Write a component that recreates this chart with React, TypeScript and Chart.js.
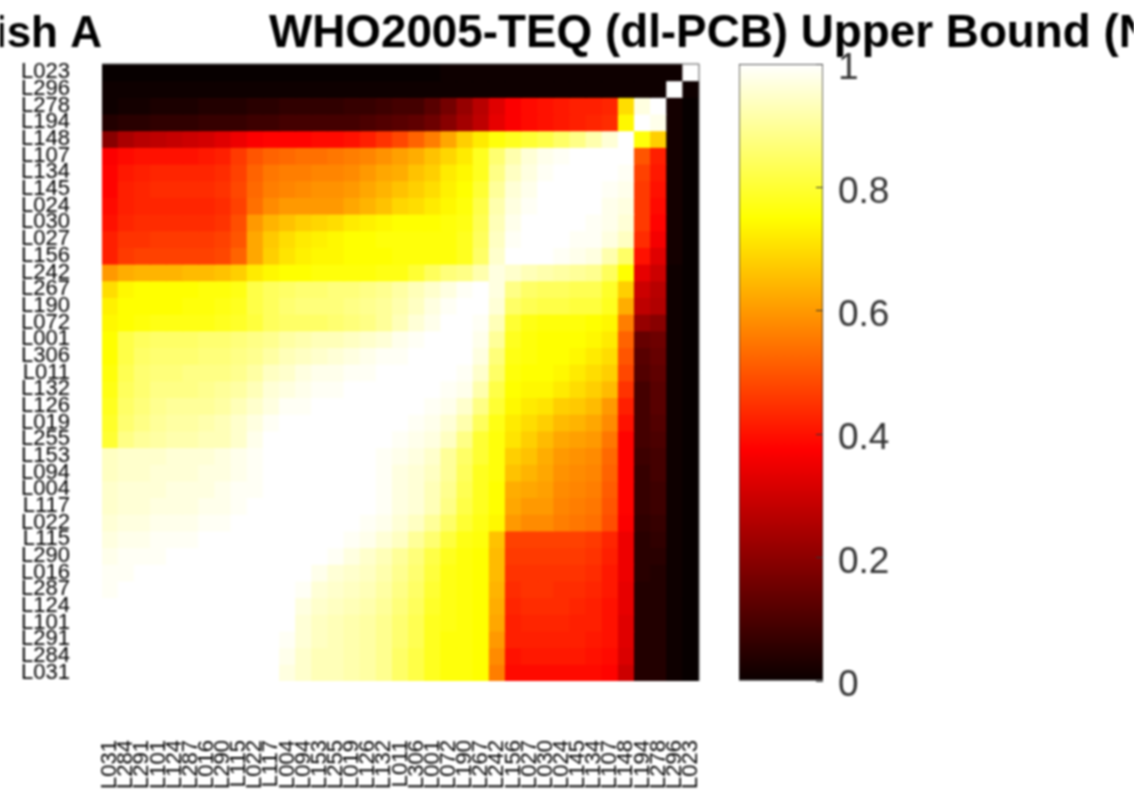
import React, { useEffect, useRef } from "react";
import { Chart, registerables } from "chart.js";

Chart.register(...registerables);

const yLabels = ["L023","L296","L278","L194","L148","L107","L134","L145","L024","L030","L027","L156","L242","L267","L190","L072","L001","L306","L011","L132","L126","L019","L255","L153","L094","L004","L117","L022","L115","L290","L016","L287","L124","L101","L291","L284","L031"];
const xLabels = [...yLabels].reverse();
const colorbarTicks = [0, 0.2, 0.4, 0.6, 0.8, 1];
const titleLeft = "Fish A";
const titleRight = "WHO2005-TEQ (dl-PCB) Upper Bound (ND=LOD)";
const hotStops: [number, string][] = [[0, "#0a0000"], [0.375, "#ff0000"], [0.75, "#ffff00"], [1, "#ffffff"]];

// Rows, top to bottom; each row left to right up to the white diagonal.
const upperRows: number[][] = [
[.01,.01,.01,.01,.01,.01,.01,.01,.01,.01,.01,.01,.01,.01,.01,.01,.01,.01,.01,.01,.01,.02,.02,.02,.02,.02,.02,.02,.02,.02,.02,.02,.02,.02,.02,.02,1],
[.02,.02,.02,.02,.02,.02,.02,.02,.02,.02,.02,.02,.02,.02,.02,.02,.02,.02,.02,.02,.02,.02,.02,.02,.02,.02,.02,.02,.02,.02,.02,.02,.02,.02,.02,1],
[.02,.03,.03,.04,.04,.04,.05,.05,.05,.06,.06,.07,.07,.07,.07,.08,.08,.09,.1,.1,.13,.17,.22,.27,.33,.37,.39,.4,.41,.42,.42,.43,.7,.97,1],
[.05,.06,.06,.07,.07,.07,.08,.08,.08,.09,.09,.1,.1,.1,.1,.1,.11,.12,.13,.14,.16,.2,.24,.28,.34,.37,.39,.4,.41,.42,.43,.44,.74,1],
[.2,.25,.27,.28,.29,.3,.31,.33,.35,.37,.38,.38,.38,.39,.39,.4,.42,.45,.48,.52,.56,.62,.68,.72,.76,.78,.8,.82,.85,.88,.92,.96,1],
[.37,.39,.4,.4,.4,.4,.41,.42,.46,.5,.52,.53,.54,.54,.55,.56,.57,.59,.61,.63,.66,.69,.72,.78,.86,.92,.96,.98,.99,1,1,1],
[.38,.41,.42,.43,.43,.43,.43,.44,.47,.52,.55,.56,.56,.57,.57,.58,.6,.62,.63,.66,.68,.72,.74,.78,.88,.94,.97,.99,1,1,1],
[.38,.42,.43,.44,.44,.44,.44,.45,.48,.53,.56,.57,.58,.59,.59,.6,.62,.64,.66,.68,.7,.73,.75,.8,.9,.96,.98,1,1,1],
[.39,.42,.43,.43,.43,.43,.43,.44,.47,.54,.58,.6,.6,.6,.6,.62,.64,.66,.69,.7,.72,.74,.76,.82,.92,.97,.99,1,1],
[.4,.43,.44,.44,.44,.44,.44,.45,.49,.6,.64,.66,.68,.69,.7,.72,.73,.74,.75,.75,.75,.76,.77,.83,.93,.98,1,1],
[.42,.45,.45,.46,.46,.46,.46,.47,.5,.62,.67,.7,.72,.73,.74,.75,.75,.76,.76,.76,.76,.76,.78,.84,.94,.99,1],
[.42,.46,.47,.47,.47,.47,.47,.48,.52,.62,.68,.71,.73,.74,.74,.75,.75,.75,.76,.76,.76,.76,.78,.85,.95,1],
[.6,.63,.64,.64,.64,.65,.65,.66,.68,.72,.74,.75,.75,.76,.76,.76,.76,.77,.77,.8,.84,.87,.88,.92,.97],
[.7,.74,.75,.75,.75,.75,.76,.76,.77,.82,.84,.85,.86,.86,.87,.87,.88,.89,.91,.93,.95,.97,.99,1],
[.73,.75,.75,.75,.75,.76,.76,.77,.78,.82,.84,.86,.87,.87,.87,.88,.89,.9,.92,.94,.97,.99,1],
[.74,.75,.76,.77,.77,.77,.77,.78,.79,.81,.84,.85,.85,.85,.86,.87,.88,.9,.93,.96,.98,1],
[.75,.82,.84,.85,.85,.85,.86,.86,.87,.88,.89,.91,.92,.93,.93,.94,.95,.96,.98,.99,1],
[.75,.82,.85,.86,.86,.86,.87,.87,.88,.89,.91,.93,.94,.95,.96,.97,.98,.99,.99,1],
[.76,.83,.86,.87,.87,.88,.88,.88,.89,.91,.94,.95,.97,.98,.98,.99,.99,1,1],
[.77,.84,.86,.88,.88,.88,.89,.9,.91,.93,.96,.97,.98,.99,.99,1,1,1],
[.78,.85,.87,.89,.9,.9,.9,.91,.93,.95,.97,.99,.99,1,1,1,1],
[.79,.86,.88,.9,.91,.91,.92,.93,.95,.97,.99,1,1,1,1,1],
[.8,.88,.9,.91,.92,.92,.93,.93,.95,.98,1,1,1,1,1],
[.94,.95,.95,.95,.96,.96,.96,.97,.98,.99,1,1,1,1],
[.94,.95,.95,.96,.96,.96,.97,.97,.98,.99,1,1,1],
[.95,.96,.96,.96,.97,.97,.97,.98,.99,.99,1,1],
[.95,.96,.96,.97,.97,.97,.98,.98,.99,1,1],
[.96,.97,.97,.98,.98,.98,.99,.99,1,1],
[.97,.98,.98,.99,.99,.99,1,1,1],
[.98,.99,.99,.99,1,1,1,1],
[.99,.99,1,1,1,1,1],
[.99,1,1,1,1,1],
[1,1,1,1,1],
[1,1,1,1],
[1,1,1],
[1,1],
[1],
];

// The remainder of each row, right of the white diagonal.
const lowerRows: number[][] = [
[],
[.02],
[.03,.01],
[.98,.03,.01],
[.76,.68,.03,.01],
[1,.5,.42,.03,.01],
[1,.99,.47,.41,.03,.01],
[1,.99,.98,.46,.4,.03,.01],
[1,1,.98,.97,.46,.39,.03,.01],
[1,1,.99,.98,.96,.46,.38,.03,.01],
[1,1,.99,.99,.97,.94,.44,.36,.03,.01],
[1,1,.99,.98,.97,.92,.85,.4,.33,.03,.01],
[.95,.93,.92,.91,.9,.89,.84,.75,.34,.3,.02,.01],
[.97,.88,.85,.84,.84,.83,.83,.79,.68,.3,.27,.02,.01],
[1,.96,.85,.83,.82,.82,.81,.81,.78,.63,.28,.26,.02,.01],
[1,.99,.93,.8,.77,.76,.76,.76,.75,.74,.56,.22,.2,.02,.01],
[1,1,.98,.9,.78,.76,.75,.75,.75,.74,.72,.52,.15,.16,.02,.01],
[1,1,1,.97,.87,.77,.76,.75,.75,.74,.72,.7,.5,.13,.15,.02,.01],
[1,1,1,.99,.95,.85,.76,.75,.75,.74,.72,.7,.68,.48,.12,.14,.02,.01],
[1,1,1,.99,.98,.92,.82,.75,.74,.74,.72,.7,.68,.65,.45,.1,.13,.02,.01],
[1,1,1,.99,.98,.95,.88,.8,.74,.72,.71,.68,.67,.65,.6,.42,.1,.13,.02,.01],
[1,1,1,.99,.98,.96,.92,.84,.77,.72,.7,.68,.65,.64,.62,.58,.4,.1,.12,.02,.01],
[1,1,1,.99,.98,.97,.94,.88,.8,.76,.71,.68,.65,.62,.61,.6,.55,.38,.1,.11,.02,.01],
[1,1,1,.99,.98,.97,.95,.9,.85,.8,.76,.68,.66,.63,.6,.59,.58,.53,.38,.09,.1,.02,.01],
[1,1,1,1,.99,.97,.96,.94,.9,.84,.78,.76,.66,.64,.62,.59,.58,.57,.52,.38,.08,.1,.02,.01],
[1,1,1,1,1,.99,.97,.96,.93,.89,.83,.78,.75,.63,.62,.61,.58,.57,.56,.51,.38,.08,.09,.02,.01],
[1,1,1,1,1,1,.99,.97,.96,.93,.88,.82,.78,.75,.62,.6,.6,.57,.56,.55,.5,.38,.08,.09,.02,.01],
[1,1,1,1,1,1,.99,.98,.96,.94,.9,.85,.8,.77,.74,.6,.58,.58,.56,.55,.54,.49,.37,.07,.08,.02,.01],
[1,1,1,1,1,1,.99,.98,.96,.94,.9,.86,.81,.77,.76,.66,.47,.47,.47,.47,.47,.46,.43,.35,.06,.07,.02,.01],
[1,1,1,1,1,1,.99,.97,.95,.93,.9,.87,.82,.78,.76,.75,.65,.46,.46,.46,.46,.46,.45,.42,.35,.06,.06,.02,.01],
[1,1,1,1,1,1,.98,.96,.95,.94,.92,.89,.86,.81,.77,.76,.75,.65,.45,.45,.45,.45,.45,.44,.41,.35,.06,.05,.02,.01],
[1,1,1,1,1,1,.99,.96,.95,.94,.93,.91,.88,.85,.8,.77,.76,.75,.64,.44,.45,.45,.44,.44,.43,.41,.34,.05,.05,.02,.01],
[1,1,1,1,1,1,1,.97,.95,.94,.93,.92,.9,.87,.84,.79,.77,.76,.75,.63,.43,.44,.44,.44,.43,.42,.4,.34,.05,.05,.02,.01],
[1,1,1,1,1,1,1,1,.96,.94,.93,.92,.91,.89,.86,.83,.78,.77,.76,.75,.62,.42,.43,.43,.43,.42,.42,.4,.33,.05,.05,.02,.01],
[1,1,1,1,1,1,1,1,.99,.96,.94,.93,.92,.91,.89,.86,.83,.78,.76,.76,.75,.6,.42,.42,.42,.42,.42,.41,.4,.33,.05,.05,.02,.01],
[1,1,1,1,1,1,1,1,1,.98,.95,.93,.93,.92,.91,.89,.85,.82,.78,.76,.76,.75,.58,.4,.41,.41,.41,.41,.4,.39,.32,.05,.05,.02,.01],
[1,1,1,1,1,1,1,1,1,1,.97,.95,.93,.93,.92,.91,.89,.85,.82,.78,.76,.76,.75,.56,.39,.39,.39,.39,.39,.39,.38,.3,.05,.05,.02,.01],
];

const FONT = "'Liberation Sans', Arial, sans-serif";

function hotColor(v: number): string {
  const r = Math.min(1, v / 0.375);
  const g = Math.max(0, Math.min(1, (v - 0.375) / 0.375));
  const b = Math.max(0, Math.min(1, (v - 0.75) / 0.25));
  return `rgb(${Math.round(r * 255)},${Math.round(g * 255)},${Math.round(b * 255)})`;
}

const titlePlugin = {
  id: "pageTitle",
  afterDraw(chart: any) {
    const c = chart.ctx;
    const a = chart.chartArea;
    c.save();
    c.strokeStyle = "#555";
    c.lineWidth = 1;
    c.beginPath();
    c.moveTo(a.left, a.top);
    c.lineTo(a.right, a.top);
    c.lineTo(a.right, a.bottom);
    c.stroke();
    c.fillStyle = "#000";
    c.textBaseline = "alphabetic";
    c.font = `bold 44px ${FONT}`;
    c.textAlign = "right";
    c.fillText(titleLeft, 102, 47);
    c.font = `bold 45.8px ${FONT}`;
    c.textAlign = "left";
    c.fillText(titleRight, 269, 47);
    c.restore();
  },
};

export default function App() {
  const heatRef = useRef<HTMLCanvasElement>(null);
  const barRef = useRef<HTMLCanvasElement>(null);

  useEffect(() => {
    document.body.style.margin = "0";
    document.body.style.overflow = "hidden";
    const matrix = upperRows.map((row, r) => row.concat(lowerRows[r]));

    const heat = new Chart(heatRef.current!, {
      type: "bar",
      data: {
        labels: xLabels,
        datasets: yLabels.map((name, r) => ({
          label: name,
          data: xLabels.map(() => [r, r + 1]),
          backgroundColor: matrix[r].map(hotColor),
          borderWidth: 0,
          barPercentage: 1,
          categoryPercentage: 1,
          grouped: false,
          inflateAmount: 0.5,
        })),
      } as any,
      options: {
        responsive: false,
        animation: false,
        layout: { autoPadding: false, padding: { top: 64, right: 435, left: 0, bottom: 0 } },
        plugins: { legend: { display: false }, tooltip: { enabled: false }, title: { display: false } },
        scales: {
          x: {
            type: "category",
            afterFit: (s: any) => { s.height = 112; },
            grid: { display: false, drawTicks: false },
            border: { display: false },
            ticks: { autoSkip: false, minRotation: 90, maxRotation: 90, padding: 59, color: "#000", font: { family: FONT, size: 22 } },
          },
          y: {
            type: "linear",
            min: 0,
            max: yLabels.length,
            reverse: true,
            afterFit: (s: any) => { s.width = 102; },
            afterBuildTicks: (s: any) => { s.ticks = yLabels.map((_, i) => ({ value: i + 0.5 })); },
            grid: { display: false, drawTicks: false },
            border: { display: false },
            ticks: {
              autoSkip: false,
              padding: 32,
              color: "#000",
              font: { family: FONT, size: 22 },
              callback: (v: any) => yLabels[Math.floor(Number(v))],
            },
          },
        },
      } as any,
      plugins: [titlePlugin],
    });

    const bar = new Chart(barRef.current!, {
      type: "bar",
      data: {
        labels: ["scale"],
        datasets: [{
          data: [[0, 1]],
          backgroundColor: (ctx: any) => {
            const area = ctx.chart.chartArea;
            if (!area) return "#f00";
            const g = ctx.chart.ctx.createLinearGradient(0, area.bottom, 0, area.top);
            hotStops.forEach(([p, col]) => g.addColorStop(p, col));
            return g;
          },
          borderColor: "#222",
          borderWidth: 1,
          borderSkipped: false,
          barPercentage: 1,
          categoryPercentage: 1,
        }],
      } as any,
      options: {
        responsive: false,
        animation: false,
        layout: { autoPadding: false, padding: { left: 19, top: 64, bottom: 112, right: 0 } },
        plugins: { legend: { display: false }, tooltip: { enabled: false } },
        scales: {
          x: { display: false },
          y: {
            position: "right",
            min: 0,
            max: 1,
            afterFit: (s: any) => { s.width = 311; },
            afterBuildTicks: (s: any) => { s.ticks = colorbarTicks.map((value) => ({ value })); },
            grid: { drawOnChartArea: false, drawTicks: true, tickLength: -7, color: "#333", z: 1 },
            border: { display: false },
            ticks: { padding: 22, color: "#333", labelOffset: 5, font: { family: FONT, size: 37 }, callback: (v: any) => String(v) },
          },
        },
      } as any,
    });

    return () => { heat.destroy(); bar.destroy(); };
  }, []);

  const blur = "blur(1px)";
  return (
    <div style={{ position: "relative", width: 1134, height: 793, overflow: "hidden", background: "#fff" }}>
      <canvas ref={heatRef} width={1134} height={793} style={{ position: "absolute", left: 0, top: 0, filter: blur }} />
      <canvas ref={barRef} width={414} height={793} style={{ position: "absolute", left: 720, top: 0, filter: blur }} />
    </div>
  );
}
